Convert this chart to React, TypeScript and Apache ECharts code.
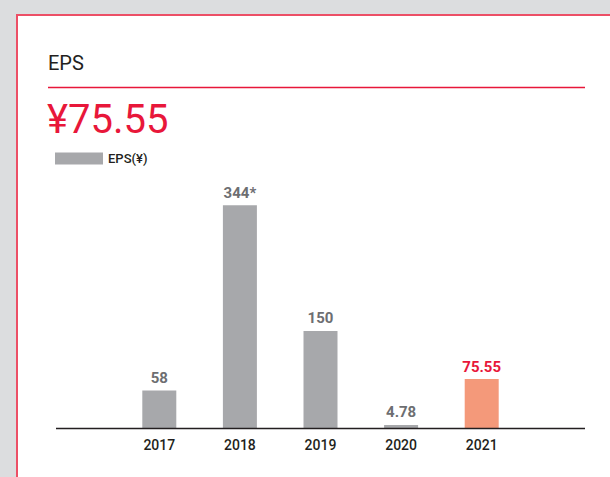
import React, { useEffect, useRef } from "react";
import * as echarts from "echarts";

const years = ["2017", "2018", "2019", "2020", "2021"];
const eps = [58, 344, 150, 4.78, 75.55];
const valueLabels = ["58", "344*", "150", "4.78", "75.55"];
const headline = "¥75.55";
const titleText = "EPS";
const seriesName = "EPS(¥)";

const GRAY = "#a7a8ab";
const HIGHLIGHT = "#f4997a";
const RED = "#e8173a";
const FONT = "Roboto, 'Noto Sans', sans-serif";

export default function App() {
  const ref = useRef<HTMLDivElement>(null);
  useEffect(() => {
    if (!ref.current) return;
    const chart = echarts.init(ref.current, null, { renderer: "svg" });
    const last = years.length - 1;
    chart.setOption({
      animation: false,
      textStyle: { fontFamily: FONT },
      title: [
        {
          text: titleText,
          left: 48,
          top: 53,
          padding: 0,
          textStyle: { fontSize: 20, fontWeight: 400, color: "#231f20", fontFamily: FONT, letterSpacing: 1 },
        },
        {
          text: headline,
          left: 47,
          top: 99,
          padding: 0,
          textStyle: { fontSize: 40, fontWeight: 400, color: RED, fontFamily: FONT, letterSpacing: 1 },
        },
      ],
      legend: {
        left: 50,
        top: 147,
        itemWidth: 48,
        itemHeight: 12,
        icon: "rect",
        itemGap: 6,
        textStyle: { fontSize: 13, fontWeight: 500, color: "#231f20", fontFamily: FONT },
        data: [seriesName],
      },
      graphic: [
        {
          type: "line",
          shape: { x1: 48, y1: 87.5, x2: 585, y2: 87.5 },
          style: { stroke: RED, lineWidth: 1.5 },
        },
        {
          type: "line",
          shape: { x1: 56, y1: 428.5, x2: 585, y2: 428.5 },
          style: { stroke: "#231f20", lineWidth: 1.5 },
          z: 10,
        },
      ],
      grid: { left: 119, right: 88, top: 169, bottom: 49, containLabel: false },
      xAxis: {
        type: "category",
        data: years,
        axisLine: { show: false },
        axisTick: { show: false },
        axisLabel: { fontSize: 14, color: "#231f20", margin: 10, fontWeight: 500, fontFamily: FONT },
      },
      yAxis: {
        type: "value",
        min: 0,
        max: 400,
        show: false,
        splitLine: { show: false },
      },
      series: [
        {
          name: seriesName,
          type: "bar",
          barWidth: 34,
          itemStyle: { color: GRAY },
          data: eps.map((v, i) => ({
            value: v,
            itemStyle: { color: i === last ? HIGHLIGHT : GRAY },
            label: {
              show: true,
              position: "top",
              distance: 5,
              formatter: valueLabels[i],
              fontSize: 15,
              fontWeight: "bold",
              fontFamily: FONT,
              color: i === last ? RED : "#6d6e71",
            },
          })),
        },
      ],
    });
    return () => chart.dispose();
  }, []);

  return (
    <div style={{ position: "absolute", left: 0, top: 0, width: 610, height: 477, background: "#dcdddf", overflow: "hidden" }}>
      <div
        style={{
          position: "absolute",
          left: 16,
          top: 14,
          width: 640,
          height: 520,
          background: "#ffffff",
          borderLeft: "2px solid #ec4f66",
          borderTop: "2px solid #ec4f66",
        }}
      />
      <div ref={ref} style={{ position: "absolute", left: 0, top: 0, width: 610, height: 477 }} />
    </div>
  );
}
